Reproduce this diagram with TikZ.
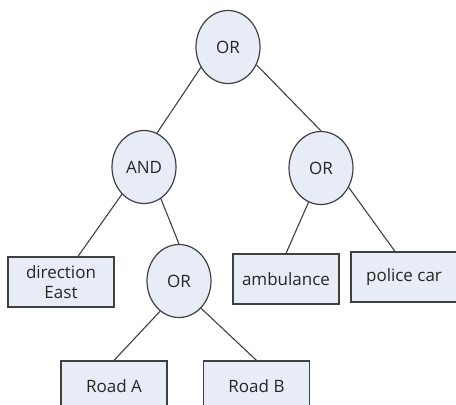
\documentclass[tikz,border=0pt]{standalone}
\usepackage{fontspec}
\setmainfont{Open Sans}
\usetikzlibrary{shapes.geometric}
\definecolor{nodefill}{HTML}{E7ECF6}
\definecolor{edgegray}{HTML}{404040}

\begin{document}
\begin{tikzpicture}[x=1pt, y=-1pt,
    every node/.style={font=\fontsize{17}{20.5}\selectfont, text=black!85},
    gate/.style={draw=edgegray, ellipse, fill=nodefill, line width=1.2pt, minimum width=64pt, minimum height=73pt, inner sep=0pt},
    leaf/.style={draw=edgegray, rectangle, fill=nodefill, line width=1.2pt, minimum width=106pt, minimum height=50pt, inner sep=0pt, align=center},
    link/.style={draw=edgegray, line width=1.1pt}]
    \useasboundingbox (0,0) rectangle (456,405);

    % Gates
    \node[gate] (top) at (228,47) {OR};
    \node[gate] (and) at (144,167) {AND};
    \node[gate] (orR) at (321,168) {OR};
    \node[gate] (orL) at (179,281) {OR};

    % Leaves
    \foreach \name/\x/\y/\txt in {dir/61/282/{direction\\East}, amb/286/279/ambulance,
                                  police/404/277/{police car}, roadA/114/386/{Road A}, roadB/256.5/386/{Road B}} {
        \node[leaf] (\name) at (\x,\y) {\txt};
    }

    % Links
    \draw[link] (top.217) -- (and.69);
    \draw[link] (top.-32) -- (orR.90);
    \draw[link] (and.231) -- ([xshift=17pt]dir.north);
    \draw[link] (and.-62) -- (orL.90);
    \draw[link] (orL.238) -- (roadA.north);
    \draw[link] (orL.-51) -- (roadB.north);
    \draw[link] (orR.250) -- (amb.north);
    \draw[link] (orR.-35.5) -- ([xshift=-9pt]police.north);
\end{tikzpicture}
\end{document}
